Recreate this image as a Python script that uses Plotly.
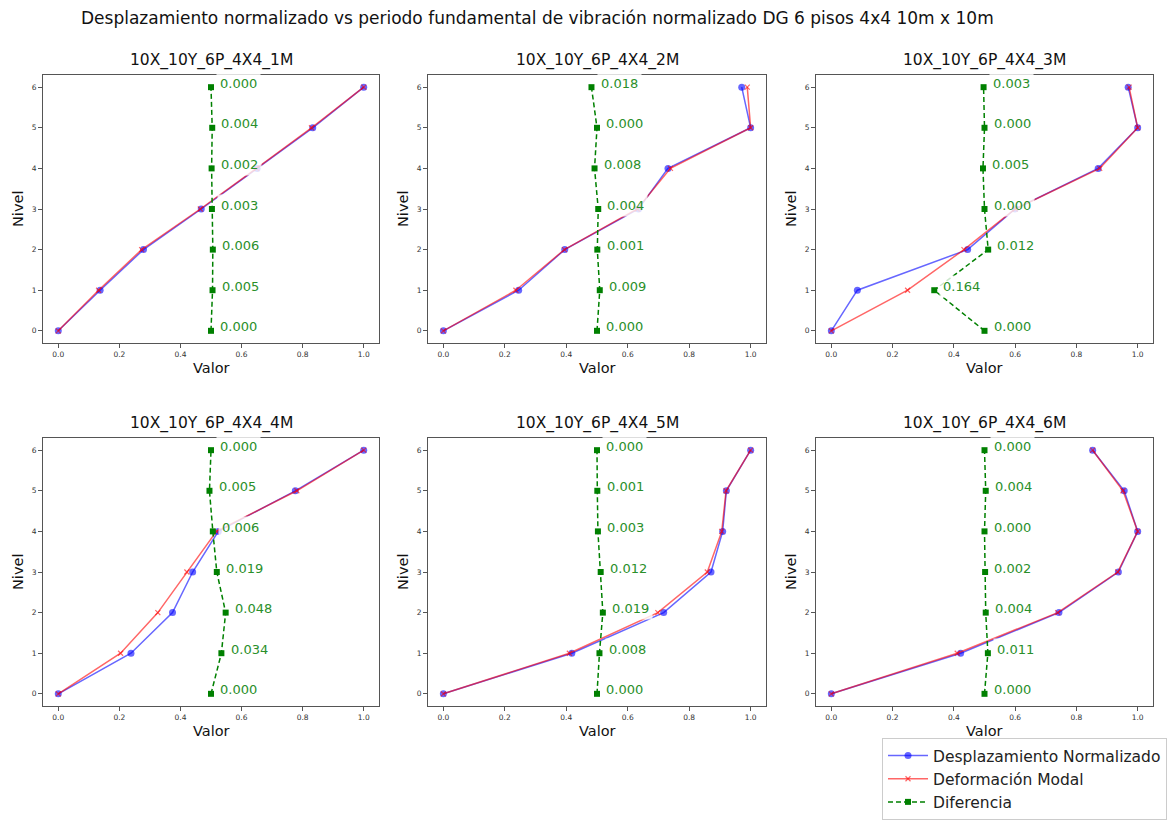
import plotly.graph_objects as go

# Figure size in pixels
W, H = 1171, 822

niveles = [0, 1, 2, 3, 4, 5, 6]

modelos = [
    "10X_10Y_6P_4X4_1M", "10X_10Y_6P_4X4_2M", "10X_10Y_6P_4X4_3M",
    "10X_10Y_6P_4X4_4M", "10X_10Y_6P_4X4_5M", "10X_10Y_6P_4X4_6M",
]

# Normalised displacement per level (blue)
desp_1m = [0.000, 0.137, 0.279, 0.468, 0.651, 0.833, 1.000]
desp_2m = [0.000, 0.245, 0.395, 0.635, 0.731, 1.000, 0.971]
desp_3m = [0.000, 0.085, 0.445, 0.600, 0.871, 1.000, 0.969]
desp_4m = [0.000, 0.238, 0.374, 0.440, 0.524, 0.776, 1.000]
desp_5m = [0.000, 0.418, 0.717, 0.871, 0.909, 0.921, 1.000]
desp_6m = [0.000, 0.422, 0.743, 0.937, 1.000, 0.956, 0.853]

# Modal deformation per level (red)
modal_1m = [0.000, 0.132, 0.273, 0.465, 0.649, 0.829, 1.000]
modal_2m = [0.000, 0.236, 0.394, 0.631, 0.739, 1.000, 0.989]
modal_3m = [0.000, 0.249, 0.433, 0.600, 0.876, 1.000, 0.972]
modal_4m = [0.000, 0.204, 0.326, 0.421, 0.518, 0.781, 1.000]
modal_5m = [0.000, 0.410, 0.698, 0.859, 0.906, 0.920, 1.000]
modal_6m = [0.000, 0.411, 0.739, 0.935, 1.000, 0.952, 0.853]

# Signed difference (displacement - modal), drawn around 0.5
dif_1m = [0.000, 0.005, 0.006, 0.003, 0.002, 0.004, 0.000]
dif_2m = [0.000, 0.009, 0.001, 0.004, -0.008, 0.000, -0.018]
dif_3m = [0.000, -0.164, 0.012, 0.000, -0.005, 0.000, -0.003]
dif_4m = [0.000, 0.034, 0.048, 0.019, 0.006, -0.005, 0.000]
dif_5m = [0.000, 0.008, 0.019, 0.012, 0.003, 0.001, 0.000]
dif_6m = [0.000, 0.011, 0.004, 0.002, 0.000, 0.004, 0.000]

desp_all = [desp_1m, desp_2m, desp_3m, desp_4m, desp_5m, desp_6m]
modal_all = [modal_1m, modal_2m, modal_3m, modal_4m, modal_5m, modal_6m]
dif_all = [dif_1m, dif_2m, dif_3m, dif_4m, dif_5m, dif_6m]

x_ticks = [0.0, 0.2, 0.4, 0.6, 0.8, 1.0]
y_ticks = [0, 1, 2, 3, 4, 5, 6]

# Axes boxes in pixels
col_px = [(43, 379), (428, 766), (816, 1153)]
row_px = [(75, 343), (438, 706)]

FONT = "DejaVu Sans"
BLUE = "rgba(0,0,255,0.6)"
RED = "rgba(255,0,0,0.6)"
GREEN = "#008000"
TXT_GREEN = "#2a8f2a"

fig = go.Figure()
layout = dict(
    width=W, height=H,
    margin=dict(l=0, r=0, t=0, b=0),
    paper_bgcolor="white", plot_bgcolor="white",
    font=dict(family=FONT, color="#222"),
    showlegend=True,
)
annotations = []

for i in range(6):
    r, c = divmod(i, 3)
    x0, x1 = col_px[c]
    y0, y1 = row_px[r]
    xa = "x" if i == 0 else f"x{i + 1}"
    ya = "y" if i == 0 else f"y{i + 1}"
    xkey = "xaxis" if i == 0 else f"xaxis{i + 1}"
    ykey = "yaxis" if i == 0 else f"yaxis{i + 1}"

    axis_common = dict(
        showgrid=False, zeroline=False, showline=True, mirror=True,
        linecolor="#555", linewidth=1, ticks="outside", ticklen=4,
        tickcolor="#555", tickfont=dict(family=FONT, size=7.5, color="#333"),
    )
    layout[xkey] = dict(domain=[x0 / W, x1 / W], anchor=ya, range=[-0.05, 1.05],
                        tickvals=x_ticks, tickformat=".1f", **axis_common)
    layout[ykey] = dict(domain=[1 - y1 / H, 1 - y0 / H], anchor=xa, range=[-0.3, 6.3],
                        tickvals=y_ticks, **axis_common)

    desp = desp_all[i]
    modal = modal_all[i]
    dif = dif_all[i]
    dif_x = [0.5 + d for d in dif]

    fig.add_trace(go.Scatter(
        x=desp, y=niveles, xaxis=xa, yaxis=ya, mode="lines+markers",
        name="Desplazamiento Normalizado", legendgroup="desp", showlegend=(i == 0),
        line=dict(color=BLUE, width=1.5),
        marker=dict(symbol="circle", size=7, color=BLUE),
    ))
    fig.add_trace(go.Scatter(
        x=modal, y=niveles, xaxis=xa, yaxis=ya, mode="lines+markers",
        name="Deformación Modal", legendgroup="modal", showlegend=(i == 0),
        line=dict(color=RED, width=1.5),
        marker=dict(symbol="x-thin-open", size=5, color=RED, line=dict(color=RED, width=1.2)),
    ))
    fig.add_trace(go.Scatter(
        x=dif_x, y=niveles, xaxis=xa, yaxis=ya, mode="lines+markers",
        name="Diferencia", legendgroup="dif", showlegend=(i == 0),
        line=dict(color=GREEN, width=1.5, dash="5px,3px"),
        marker=dict(symbol="square", size=6, color=GREEN),
    ))

    # Value labels next to each difference marker
    for xv, yv, d in zip(dif_x, niveles, dif):
        annotations.append(dict(
            x=xv + 0.03, y=yv, xref=xa, yref=ya, text=f"{abs(d):.3f}",
            showarrow=False, xanchor="left", yanchor="middle", xshift=-4, yshift=4,
            font=dict(family=FONT, size=13, color=TXT_GREEN),
            bgcolor="rgba(255,255,255,0.8)", borderpad=3,
        ))

    # Subplot title
    annotations.append(dict(
        x=(x0 + x1) / 2 / W, y=1 - (y0 - 15) / H, xref="paper", yref="paper",
        text=modelos[i], showarrow=False, xanchor="center", yanchor="middle",
        font=dict(family=FONT, size=15.5, color="#111"),
    ))
    # Axis titles
    annotations.append(dict(
        x=(x0 + x1) / 2 / W, y=1 - (y1 + 25) / H, xref="paper", yref="paper",
        text="Valor", showarrow=False, xanchor="center", yanchor="middle",
        font=dict(family=FONT, size=14.5, color="#111"),
    ))
    annotations.append(dict(
        x=(x0 - 25) / W, y=1 - (y0 + y1) / 2 / H, xref="paper", yref="paper",
        text="Nivel", showarrow=False, xanchor="center", yanchor="middle", textangle=-90,
        font=dict(family=FONT, size=14.5, color="#111"),
    ))

# Figure title
annotations.append(dict(
    x=537 / W, y=1 - 18 / H, xref="paper", yref="paper",
    text="Desplazamiento normalizado vs periodo fundamental de vibración normalizado DG 6 pisos 4x4 10m x 10m",
    showarrow=False, xanchor="center", yanchor="middle",
    font=dict(family=FONT, size=17, color="#111"),
))

layout["annotations"] = annotations
# Legend anchored at its bottom edge so it stays inside the page without pushing margins
layout["legend"] = dict(
    x=882 / W, y=2 / H, xanchor="left", yanchor="bottom",
    bgcolor="white", bordercolor="#cccccc", borderwidth=1,
    font=dict(family=FONT, size=15.5, color="#222"),
    tracegroupgap=0, itemwidth=40,
)
fig.update_layout(**layout)
fig.write_html("out.html")
